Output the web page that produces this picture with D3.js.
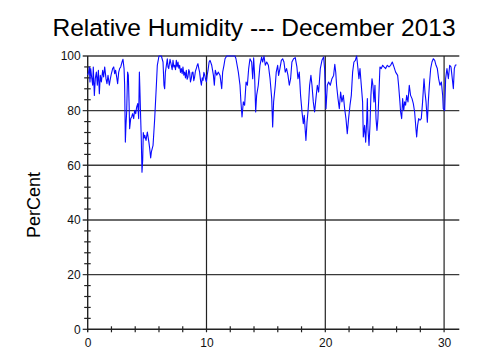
<!DOCTYPE html>
<html><head><meta charset="utf-8">
<script src="https://cdn.jsdelivr.net/npm/d3@7"></script>
<style>body{margin:0;background:#fff}svg{display:block}</style>
</head><body><svg id="c" width="500" height="355"></svg>
<script>
const title = "Relative Humidity --- December 2013";
const yLabel = "PerCent";
const xTicks = [0, 10, 20, 30];
const yTicks = [0, 20, 40, 60, 80, 100];
const xMinor = [2, 4, 6, 8, 12, 14, 16, 18, 22, 24, 26, 28];
const yMinor = [4, 8, 12, 16, 24, 28, 32, 36, 44, 48, 52, 56, 64, 68, 72, 76, 84, 88, 92, 96];

const days = [
 0.00,0.08,0.14,0.19,0.25,0.33,0.42,0.47,0.56,0.64,
 0.73,0.81,0.90,0.98,1.06,1.15,1.26,1.34,1.43,1.54,
 1.62,1.71,1.82,1.91,1.99,2.10,2.19,2.27,2.35,2.44,
 2.52,2.61,2.69,2.78,2.89,2.97,3.06,3.11,3.17,3.22,
 3.28,3.36,3.42,3.48,3.53,3.62,3.70,3.78,3.87,3.95,
 4.04,4.12,4.21,4.29,4.35,4.40,4.46,4.51,4.57,4.63,
 4.68,4.74,4.80,4.91,5.02,5.15,5.22,5.30,5.36,5.50,
 5.64,5.78,5.86,6.00,6.20,6.34,6.42,6.48,6.54,6.62,
 6.70,6.76,6.82,6.93,7.04,7.11,7.18,7.25,7.32,7.39,
 7.46,7.53,7.60,7.67,7.74,7.81,7.88,7.95,8.02,8.09,
 8.16,8.23,8.30,8.37,8.44,8.51,8.58,8.65,8.72,8.79,
 8.86,8.93,9.00,9.07,9.14,9.21,9.28,9.35,9.42,9.50,
 9.57,9.64,9.71,9.78,9.85,9.92,9.99,10.06,10.13,10.22,
 10.30,10.44,10.58,10.66,10.74,10.86,11.00,11.14,11.28,11.36,
 11.47,11.56,11.70,12.40,12.48,12.68,12.82,12.90,12.99,13.10,
 13.21,13.33,13.44,13.55,13.66,13.80,13.89,13.97,14.05,14.14,
 14.22,14.36,14.50,14.64,14.73,14.84,14.95,15.07,15.21,15.35,
 15.49,15.57,15.65,15.79,15.87,15.99,16.07,16.18,16.30,16.41,
 16.52,16.63,16.74,16.86,16.97,17.08,17.19,17.33,17.47,17.61,
 17.70,17.81,17.92,18.04,18.15,18.23,18.32,18.37,18.46,18.54,
 18.60,18.68,18.79,18.88,18.99,19.10,19.21,19.33,19.44,19.58,
 19.72,19.86,19.94,20.06,20.17,20.28,20.42,20.56,20.70,20.80,
 20.88,20.95,21.07,21.18,21.29,21.40,21.52,21.63,21.74,21.85,
 21.96,22.08,22.19,22.30,22.41,22.53,22.64,22.75,22.83,22.92,
 23.03,23.14,23.20,23.31,23.40,23.48,23.54,23.59,23.68,23.76,
 23.84,23.93,24.01,24.10,24.18,24.27,24.35,24.43,24.52,24.60,
 24.71,24.83,24.94,25.08,25.22,25.36,25.50,25.64,25.78,25.92,
 26.09,26.17,26.26,26.34,26.43,26.51,26.60,26.68,26.76,26.85,
 26.96,27.07,27.18,27.30,27.41,27.52,27.63,27.69,27.77,27.86,
 27.97,28.08,28.19,28.31,28.39,28.48,28.59,28.67,28.76,28.87,
 28.98,29.09,29.21,29.32,29.43,29.54,29.65,29.77,29.88,29.93,
 30.05,30.13,30.24,30.36,30.47,30.58,30.69,30.78,30.86,30.94,
 31.04];

const rh = [
 93,94.1,96.0,90.5,95.4,92.3,89.3,96.0,85.6,91.7,
 94.1,89.3,94.8,86.2,92.9,90.5,94.8,92.3,96.0,91.7,
 89.9,92.9,89.3,91.7,93.5,95.4,96.0,93.5,94.8,92.3,
 89.9,94.1,95.4,96.0,97.8,98.8,95.4,89.3,68.5,74.6,
 79.5,94.1,93.0,83.2,73.4,77.1,77.7,78.9,77.1,80.1,
 78.9,81.3,82.6,77.1,94.1,86.8,77.1,69.8,57.5,62.0,
 72.0,70.0,71.0,69.1,72.2,68.5,66.1,62.7,64.9,67.3,
 77.1,89.3,96.6,100,100,97.8,89.3,88.0,94.1,96.5,
 99.0,96.0,95.4,98.8,96.6,95.0,98.4,96.0,96.6,95.0,
 98.4,96.0,97.8,95.5,96.6,94.0,95.4,93.5,96.0,93.0,
 94.1,92.0,94.8,91.5,92.3,95.0,94.1,90.5,91.7,94.0,
 94.1,91.0,92.3,94.5,95.4,96.5,97.2,95.5,94.1,91.0,
 89.3,92.0,91.1,94.0,93.0,91.5,90.5,93.0,94.8,97.8,
 98.4,96.6,93.0,89.3,94.8,93.0,94.1,92.9,88.0,94.1,
 96.6,99.0,100,100,99.0,94.1,89.3,83.2,77.7,83.2,
 82.0,90.5,89.3,95.4,99.0,97.8,91.7,99.3,92.9,79.5,
 85.6,89.3,96.6,99.6,97.8,100,96.6,97.8,96.6,91.7,
 84.4,74.0,83.2,89.3,94.1,96.6,92.9,95.4,98.4,99.0,
 97.8,94.1,95.4,92.9,89.3,91.7,97.8,99.0,99.4,96.0,
 91.7,94.1,85.6,79.5,75.2,78.3,72.2,69.1,75.8,79.5,
 83.2,89.3,92.9,89.3,83.2,79.5,84.4,89.3,86.8,95.4,
 98.4,99.6,95.4,80.7,89.3,90.5,89.3,91.7,92.9,97.0,
 94.0,89.3,84.4,80.7,86.8,83.2,85.6,80.7,77.1,71.6,
 77.1,82.0,85.6,94.1,97.8,98.4,100,95.4,91.7,95.4,
 89.3,83.2,70.4,74.6,68.5,75.8,84.4,73.4,67.3,74.6,
 85.6,91.7,89.3,83.2,89.3,77.1,72.8,77.1,86.8,96.0,
 95.4,96.6,96.0,95.4,96.6,96.0,96.6,97.8,96.0,94.1,
 92.9,89.3,84.4,79.5,77.1,84.4,80.1,83.2,82.0,85.6,
 83.2,89.3,85.6,84.4,82.6,79.5,73.4,70.4,74.6,77.1,
 76.5,77.1,83.2,91.7,86.8,83.2,75.8,83.2,89.3,95.4,
 97.8,99.0,98.4,96.6,95.4,91.7,89.3,90.5,85.6,80.7,
 80.1,91.7,95.4,91.7,96.6,96.0,91.7,88.0,95.4,96.6,
 96.8];

const svg = d3.select("#c");
const X0 = 87.7, X1 = 459.3, Y0 = 329.3, Y1 = 56;
const x = d3.scaleLinear().domain([0, 31.28]).range([X0, X1]);
const y = d3.scaleLinear().domain([0, 100]).range([Y0, Y1]);
const font = "'Liberation Sans', Arial, sans-serif";

// horizontal grid lines
svg.append("g").selectAll("line").data(yTicks.filter(d => d > 0)).join("line")
  .attr("x1", X0 - 5).attr("x2", X1)
  .attr("y1", d => y(d)).attr("y2", d => y(d))
  .attr("stroke", "#3a3a3a").attr("stroke-width", 1.4);
// vertical grid lines
svg.append("g").selectAll("line").data(xTicks.filter(d => d > 0)).join("line")
  .attr("x1", d => x(d)).attr("x2", d => x(d))
  .attr("y1", y(0) + 3).attr("y2", y(100))
  .attr("stroke", "#222").attr("stroke-width", 1.2);

// minor ticks
svg.append("g").selectAll("line").data(yMinor).join("line")
  .attr("x1", X0 - 3.5).attr("x2", X0 + 3)
  .attr("y1", d => y(d)).attr("y2", d => y(d))
  .attr("stroke", "#222").attr("stroke-width", 1.2);
svg.append("g").selectAll("line").data(xMinor).join("line")
  .attr("x1", d => x(d)).attr("x2", d => x(d))
  .attr("y1", Y0 - 3).attr("y2", Y0 + 3)
  .attr("stroke", "#222").attr("stroke-width", 1.2);
// y=0 tick
svg.append("line").attr("x1", X0 - 5).attr("x2", X0).attr("y1", y(0)).attr("y2", y(0))
  .attr("stroke", "#222").attr("stroke-width", 1.2);

// axis lines
svg.append("line").attr("x1", X0).attr("x2", X1).attr("y1", Y0).attr("y2", Y0)
  .attr("stroke", "#222").attr("stroke-width", 1.4);
svg.append("line").attr("x1", X0).attr("x2", X0).attr("y1", Y0 + 3).attr("y2", Y1)
  .attr("stroke", "#222").attr("stroke-width", 1.4);

// axis labels via d3 axes
const ya = svg.append("g").attr("transform", `translate(${X0},0)`)
  .call(d3.axisLeft(y).tickValues(yTicks).tickSize(0).tickPadding(7));
const xa = svg.append("g").attr("transform", `translate(0,${Y0})`)
  .call(d3.axisBottom(x).tickValues(xTicks).tickSize(0).tickPadding(9.2));
[ya, xa].forEach(g => {
  g.select(".domain").remove();
  g.selectAll("text").attr("font-family", font).attr("font-size", 12).attr("fill", "#111");
});

// data line
const line = d3.line().x((d, i) => x(days[i])).y(d => y(d));
svg.append("path").datum(rh)
  .attr("d", line)
  .attr("fill", "none").attr("stroke", "#0a0aff").attr("stroke-width", 1.1)
  .attr("stroke-linejoin", "round");

// title
svg.append("text").attr("x", 254).attr("y", 36).attr("text-anchor", "middle")
  .attr("font-family", font).attr("font-size", 24.5).attr("fill", "#000").text(title);
// y label
svg.append("text").attr("transform", "translate(40,205) rotate(-90)")
  .attr("text-anchor", "middle").attr("font-family", font).attr("font-size", 18)
  .attr("fill", "#000").text(yLabel);
</script>
</body></html>
